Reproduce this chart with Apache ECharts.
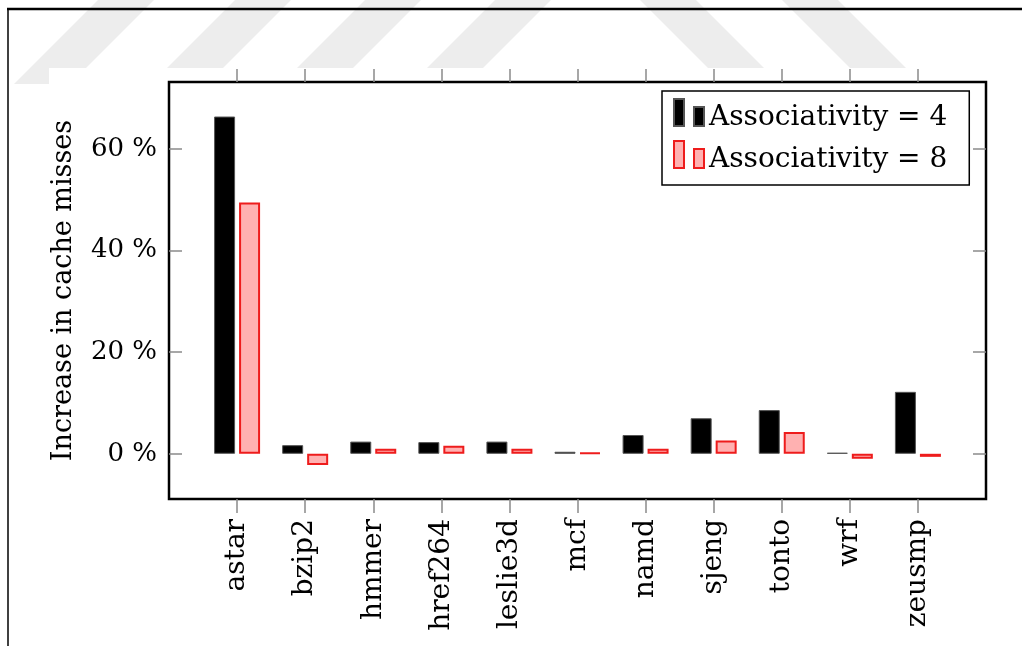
<!DOCTYPE html>
<html>
<head>
<meta charset="utf-8">
<script src="https://cdn.jsdelivr.net/npm/echarts@6/dist/echarts.min.js"></script>
<style>
  html, body { margin: 0; padding: 0; background: #fff; }
  #chart { width: 1022px; height: 646px; }
</style>
</head>
<body>
<div id="chart"></div>
<script>
// Benchmarks on the horizontal axis
const categories = ['astar', 'bzip2', 'hmmer', 'href264', 'leslie3d', 'mcf', 'namd', 'sjeng', 'tonto', 'wrf', 'zeusmp'];
// Increase in cache misses (%) for each associativity
const assoc4 = [66.4, 1.7, 2.4, 2.3, 2.4, 0.4, 3.7, 7.0, 8.6, 0.2, 12.2];
const assoc8 = [49.5, -2.2, 1.0, 1.6, 1.0, 0.2, 1.0, 2.6, 4.3, -1.0, -0.6];
const seriesNames = ['Associativity = 4', 'Associativity = 8'];
// Tick values of the vertical axis
const yTicks = [0, 20, 40, 60];

const serif = 'DejaVu Serif';
const tickColor = '#8a8a8a';
const catIndex = categories.map((_, i) => i);

// Light diagonal watermark bands along the top edge
const bandW = 56;
const slash = [98, 235, 365, 495];
const backslash = [640, 782];
const bandPolys = [];
slash.forEach(x0 => bandPolys.push([[x0, 0], [x0 + bandW, 0], [x0 + bandW - 84, 84], [x0 - 84, 84]]));
backslash.forEach(x0 => bandPolys.push([[x0, 0], [x0 + bandW, 0], [x0 + bandW + 84, 84], [x0 + 84, 84]]));

const graphics = bandPolys.map(pts => ({
  type: 'polygon', z: -10, silent: true,
  shape: { points: pts },
  style: { fill: '#ededed' }
}));
graphics.push({ type: 'rect', z: -9, silent: true, shape: { x: 49, y: 68, width: 973, height: 16 }, style: { fill: '#fff' } });
// Page frame lines
graphics.push({ type: 'line', z: -8, silent: true, shape: { x1: 7, y1: 9, x2: 1022, y2: 9 }, style: { stroke: '#000', lineWidth: 2.5 } });
graphics.push({ type: 'line', z: -8, silent: true, shape: { x1: 8, y1: 8, x2: 8, y2: 646 }, style: { stroke: '#000', lineWidth: 1.5 } });

const hiddenLine = { show: false, onZero: false };

const chart = echarts.init(document.getElementById('chart'), null, { renderer: 'canvas' });
chart.setOption({
  animation: false,
  backgroundColor: '#fff',
  graphic: graphics,
  grid: {
    show: true, left: 169, right: 36, top: 82, bottom: 147,
    borderColor: '#000', borderWidth: 2.5, backgroundColor: 'transparent'
  },
  legend: {
    orient: 'vertical', left: 662, top: 91,
    padding: [7, 22, 6, 11], itemGap: 3,
    itemWidth: 30, itemHeight: 37,
    // two small bars, the first one taller; the trailing move point reserves room below
    icon: 'path://M0,0h10v27h-10z M20,8h10v19h-10z M0,37',
    borderColor: '#000', borderWidth: 1.5, backgroundColor: '#fff',
    textStyle: { fontFamily: serif, fontSize: 28, color: '#000' },
    data: seriesNames
  },
  xAxis: [{
    type: 'value', min: -1, max: 11, position: 'bottom',
    axisLine: hiddenLine, splitLine: { show: false },
    axisTick: { show: true, inside: false, length: 14, customValues: catIndex, lineStyle: { color: tickColor, width: 1.5 } },
    axisLabel: {
      customValues: catIndex, rotate: 90, margin: 20,
      fontFamily: serif, fontSize: 28, color: '#000',
      formatter: v => categories[Math.round(v)] || ''
    }
  }, {
    type: 'value', min: -1, max: 11, position: 'top',
    axisLine: hiddenLine, splitLine: { show: false },
    axisTick: { show: true, inside: false, length: 13, customValues: catIndex, lineStyle: { color: tickColor, width: 1.5 } },
    axisLabel: { show: false }
  }],
  yAxis: [{
    type: 'value', min: -8.9, max: 73.2, position: 'left',
    axisLine: hiddenLine, splitLine: { show: false },
    axisTick: { show: true, inside: true, length: 13, customValues: yTicks, lineStyle: { color: tickColor, width: 1.5 } },
    axisLabel: {
      customValues: yTicks, margin: 12,
      fontFamily: serif, fontSize: 26, color: '#000',
      formatter: v => v + ' %'
    },
    name: 'Increase in cache misses', nameLocation: 'middle', nameGap: 92,
    nameTextStyle: { fontFamily: serif, fontSize: 27, color: '#000' }
  }, {
    type: 'value', min: -8.9, max: 73.2, position: 'right',
    axisLine: hiddenLine, splitLine: { show: false },
    axisTick: { show: true, inside: true, length: 13, customValues: yTicks, lineStyle: { color: tickColor, width: 1.5 } },
    axisLabel: { show: false }
  }],
  series: [{
    name: seriesNames[0], type: 'bar', xAxisIndex: 0, yAxisIndex: 0,
    barWidth: 21, barGap: '19%',
    itemStyle: { color: '#000', borderColor: '#555', borderWidth: 1 },
    data: assoc4.map((v, i) => [i, v])
  }, {
    name: seriesNames[1], type: 'bar', xAxisIndex: 0, yAxisIndex: 0,
    barWidth: 21, barGap: '19%',
    itemStyle: { color: '#ffb1b1', borderColor: '#ee1c1c', borderWidth: 2 },
    data: assoc8.map((v, i) => [i, v])
  }]
});
</script>
</body>
</html>
